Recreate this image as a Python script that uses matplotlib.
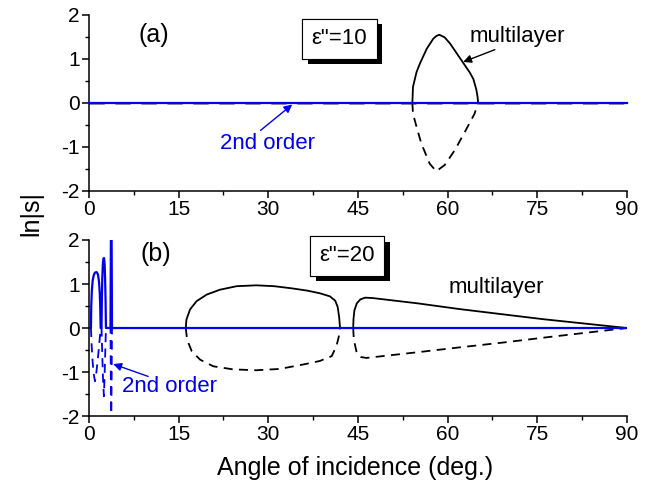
import matplotlib
matplotlib.use("Agg")
import matplotlib.pyplot as plt
import matplotlib.patheffects as pe
from matplotlib.ticker import MultipleLocator

plt.rcParams['font.family'] = ['Liberation Sans', 'DejaVu Sans']
plt.rcParams['axes.unicode_minus'] = False

# ---------------- data ----------------
x_ticks = [0, 15, 30, 45, 60, 75, 90]
y_ticks = [-2, -1, 0, 1, 2]

# panel (a): epsilon'' = 10
a_ml_solid_x = [54.1, 54.2, 54.8, 55.35, 56.5, 57.6, 58.1, 58.6, 59.5, 60.4, 61.5, 62.6, 63.7, 64.3, 64.8, 65.0, 65.1]
a_ml_solid_y = [0.0, 0.36, 0.70, 0.89, 1.23, 1.46, 1.52, 1.55, 1.49, 1.35, 1.13, 0.91, 0.69, 0.54, 0.30, 0.14, 0.0]
a_ml_dash_x = [54.1, 54.2, 54.8, 55.6, 57.0, 58.1, 59.5, 61.2, 62.9, 64.5, 65.1]
a_ml_dash_y = [0.0, -0.25, -0.55, -0.93, -1.39, -1.56, -1.42, -1.08, -0.66, -0.25, 0.0]
a_zero_x = [0, 90]
a_zero_y = [0, 0]

# panel (b): epsilon'' = 20
b_ml_solid1_x = [16.2, 16.3, 16.9, 18.0, 19.7, 21.9, 24.7, 28.0, 31.0, 34.0, 36.5, 38.6, 40.3, 41.2, 41.6, 41.85, 42.0]
b_ml_solid1_y = [0.0, 0.19, 0.42, 0.61, 0.76, 0.87, 0.95, 0.97, 0.95, 0.90, 0.85, 0.79, 0.72, 0.62, 0.48, 0.25, 0.0]
b_ml_solid2_x = [44.2, 44.25, 44.4, 44.8, 45.4, 46.2, 47.5, 55.0, 62.0, 69.3, 76.0, 83.0, 90.0]
b_ml_solid2_y = [0.0, 0.2, 0.4, 0.56, 0.65, 0.69, 0.68, 0.56, 0.43, 0.31, 0.20, 0.10, 0.0]
b_ml_dash1_x = [16.2, 16.4, 17.2, 18.6, 20.8, 24.1, 28.0, 31.9, 35.8, 38.6, 40.6, 41.4, 41.8, 42.0]
b_ml_dash1_y = [0.0, -0.26, -0.53, -0.72, -0.87, -0.94, -0.96, -0.93, -0.83, -0.75, -0.64, -0.41, -0.19, 0.0]
b_ml_dash2_x = [44.2, 44.3, 44.8, 45.5, 46.4, 55.0, 62.0, 69.3, 76.0, 83.0, 90.0]
b_ml_dash2_y = [0.0, -0.26, -0.57, -0.66, -0.68, -0.55, -0.44, -0.33, -0.22, -0.11, 0.0]
b_2nd_solid_x = [0, 0.33, 0.38, 0.48, 0.62, 0.8, 1.0, 1.28, 1.5, 1.68, 1.8, 1.88, 1.95, 2.1, 2.15, 2.22, 2.32, 2.42, 2.52, 2.62, 2.7, 2.78, 2.84, 3.6, 3.63, 3.68, 3.78, 3.82, 3.85, 90]
b_2nd_solid_y = [0, 0, 0.5, 0.85, 1.08, 1.2, 1.26, 1.27, 1.22, 1.05, 0.8, 0.5, 0, 0, 0.6, 1.1, 1.45, 1.58, 1.59, 1.45, 1.1, 0.6, 0, 0, 1.0, 2.3, 2.3, 1.0, 0, 0]
b_2nd_dash_x = [0.33, 0.45, 0.6, 0.8, 1.0, 1.2, 1.45, 1.7, 1.95, 2.1, 2.22, 2.35, 2.5, 2.65, 2.84, 3.6, 3.65, 3.72, 3.8, 3.85]
b_2nd_dash_y = [0, -0.4, -0.75, -1.05, -1.21, -1.05, -0.75, -0.4, 0, 0, -0.6, -1.15, -1.55, -0.9, 0, 0, -1.0, -2.3, -1.0, 0]

# ---------------- figure ----------------
fig = plt.figure(figsize=(6.62, 4.88), dpi=100)
L, R = 0.1344, 0.9471
ax1 = fig.add_axes([L, 0.6096, R - L, 0.9693 - 0.6096])
ax2 = fig.add_axes([L, 0.1475, R - L, 0.5082 - 0.1475])

dash = (0, (5, 3.5))
BLUE = '#0000ee'

for ax in (ax1, ax2):
    ax.set_xlim(0, 90)
    ax.set_ylim(-2, 2)
    ax.set_xticks(x_ticks)
    ax.set_yticks(y_ticks)
    ax.xaxis.set_minor_locator(MultipleLocator(7.5))
    ax.yaxis.set_minor_locator(MultipleLocator(0.5))
    ax.spines['top'].set_visible(False)
    ax.spines['right'].set_visible(False)
    for s in ('left', 'bottom'):
        ax.spines[s].set_linewidth(1.1)
    ax.tick_params(which='major', direction='out', length=5, width=1.1, labelsize=15, pad=1.5)
    ax.tick_params(which='minor', direction='out', length=3, width=1.0)

# panel (a)
ax1.plot(a_zero_x, a_zero_y, color='0.6', lw=2.2, linestyle=dash, zorder=2)
ax1.plot(a_ml_solid_x, a_ml_solid_y, color='black', lw=1.3, zorder=3)
ax1.plot(a_ml_dash_x, a_ml_dash_y, color='black', lw=1.3, linestyle=dash, zorder=3)
ax1.plot(a_zero_x, a_zero_y, color=BLUE, lw=1.6, zorder=4, clip_on=False)

ax1.text(10.9, 1.55, '(a)', fontsize=18, ha='center', va='center')
t1 = ax1.text(41.9, 1.46, 'ε"=10', fontsize=16, ha='center', va='center',
              bbox=dict(boxstyle='square,pad=0.42', fc='white', ec='black', lw=0.8), zorder=6)
t1.get_bbox_patch().set_path_effects([
    pe.withSimplePatchShadow(offset=(4, -4), shadow_rgbFace='black', alpha=1.0), pe.Normal()])
ax1.text(71.7, 1.5, 'multilayer', fontsize=16, ha='center', va='center')
ax1.annotate('', xy=(62.6, 0.93), xytext=(67.9, 1.21),
             arrowprops=dict(arrowstyle='-|>', color='black', lw=1.0, mutation_scale=12,
                             shrinkA=0, shrinkB=0))
ax1.text(29.8, -0.92, '2nd order', fontsize=16, ha='center', va='center', color=BLUE)
ax1.annotate('', xy=(34.0, -0.04), xytext=(28.7, -0.63),
             arrowprops=dict(arrowstyle='-|>', color=BLUE, lw=1.0, mutation_scale=12,
                             shrinkA=0, shrinkB=0))

# panel (b)
ax2.plot(b_ml_solid1_x, b_ml_solid1_y, color='black', lw=1.3, zorder=3)
ax2.plot(b_ml_solid2_x, b_ml_solid2_y, color='black', lw=1.3, zorder=3)
ax2.plot(b_ml_dash1_x, b_ml_dash1_y, color='black', lw=1.3, linestyle=dash, zorder=3)
ax2.plot(b_ml_dash2_x, b_ml_dash2_y, color='black', lw=1.3, linestyle=dash, zorder=3)
ax2.plot(b_2nd_dash_x, b_2nd_dash_y, color=BLUE, lw=1.3, linestyle=dash, zorder=4)
ax2.plot(b_2nd_solid_x, b_2nd_solid_y, color=BLUE, lw=1.6, zorder=4)

ax2.text(11.2, 1.69, '(b)', fontsize=18, ha='center', va='center')
t2 = ax2.text(43.2, 1.64, 'ε"=20', fontsize=16, ha='center', va='center',
              bbox=dict(boxstyle='square,pad=0.42', fc='white', ec='black', lw=0.8), zorder=6)
t2.get_bbox_patch().set_path_effects([
    pe.withSimplePatchShadow(offset=(4, -4), shadow_rgbFace='black', alpha=1.0), pe.Normal()])
ax2.text(68.1, 0.92, 'multilayer', fontsize=16, ha='center', va='center')
ax2.text(13.5, -1.32, '2nd order', fontsize=16, ha='center', va='center', color=BLUE)
ax2.annotate('', xy=(4.06, -0.82), xytext=(9.9, -1.10),
             arrowprops=dict(arrowstyle='-|>', color=BLUE, lw=1.0, mutation_scale=12,
                             shrinkA=0, shrinkB=0))

fig.text(0.0476, 0.5615, 'ln|s|', fontsize=18, rotation=90, ha='center', va='center')
fig.text(0.536, 0.042, 'Angle of incidence (deg.)', fontsize=18, ha='center', va='center')

fig.savefig('out.png', dpi=100)
